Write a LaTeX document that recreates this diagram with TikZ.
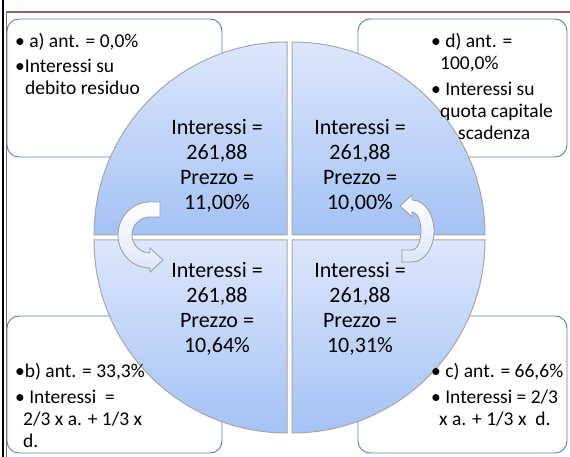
\documentclass[tikz,border=0pt]{standalone}
\usepackage{fontspec}
\setmainfont{Carlito}
\definecolor{boxblue}{RGB}{79,129,189}
\definecolor{quadtop}{RGB}{221,231,252}
\definecolor{quadbot}{RGB}{164,194,244}
\definecolor{rimbrown}{RGB}{150,100,90}
\tikzset{
      infobox/.style={draw=boxblue, fill=white, line width=0.9, rounded corners=12},
      quad/.style={top color=quadtop, bottom color=quadbot, draw=black!35, line width=1},
      turn/.style={top color=white, bottom color=quadtop, draw=black!40, line width=0.8},
      quadtext/.style={font=\fontsize{22}{25}\selectfont, align=center, inner sep=0},
      boxtext/.style={font=\fontsize{19.5}{22}\selectfont, align=left, anchor=north west, inner sep=0},
}

\begin{document}
\begin{tikzpicture}[x=1pt, y=1pt]
        \useasboundingbox (0,0) rectangle (570,457);

        % page rule
        \draw[line width=2.5] (3,0) -- (3,457) ;
        \draw[rimbrown, line width=1.3] (6.5,0) -- (6.5,445) -- (570,445) ;

        % text boxes
        \draw[infobox] (7,300) rectangle (222,438) ;
        \draw[infobox] (358,300) rectangle (567,438) ;
        \draw[infobox] (7,4) rectangle (222,141) ;
        \draw[infobox] (358,4) rectangle (567,141) ;

        % circle in four quarters
        \shade[quad] (287,222) -- ++(-193,0) arc[start angle=180, end angle=90, radius=193] -- cycle ;
        \shade[quad] (292,222) -- ++(0,193) arc[start angle=90, end angle=0, radius=193] -- cycle ;
        \shade[quad] (287,217) -- ++(0,-193) arc[start angle=270, end angle=180, radius=193] -- cycle ;
        \shade[quad] (292,217) -- ++(193,0) arc[start angle=0, end angle=-90, radius=193] -- cycle ;

        % turning arrows
        \shade[turn] (160,255) -- (150,255) arc[start angle=90, end angle=270, x radius=32, y radius=33]
              -- (150,185) -- (163,197) -- (150,209) -- (150,204)
              arc[start angle=270, end angle=90, x radius=18, y radius=18] -- (160,240) -- cycle ;
        \shade[turn] (402,195) -- (412,195) arc[start angle=-90, end angle=90, x radius=22, y radius=31]
              -- (412,262) -- (400,251) -- (412,240) -- (412,245)
              arc[start angle=90, end angle=-90, x radius=9, y radius=19] -- (402,207) -- cycle ;

        \node[quadtext] (qa) at (217,291) {Interessi =\\261,88\\Prezzo =\\11,00\%} ;
        \node[quadtext] (qd) at (360,291) {Interessi =\\261,88\\Prezzo =\\10,00\%} ;
        \node[quadtext] (qb) at (217,148) {Interessi =\\261,88\\Prezzo =\\10,64\%} ;
        \node[quadtext] (qc) at (360,148) {Interessi =\\261,88\\Prezzo =\\10,31\%} ;

        \node[boxtext] (ta) at (15,424) {• a) ant. = 0,0\%\\[3pt]•Interessi su\\\hspace*{10pt}debito residuo} ;
        \node[boxtext] (td) at (431,424) {• d) ant. =\\\hspace*{9pt}100,0\%\\[4pt]• Interessi su\\\hspace*{9pt}quota capitale\\\hspace*{27pt}scadenza} ;
        \node[boxtext] (tb) at (15,94) {•b) ant. = 33,3\%\\[4pt]• Interessi \ =\\\hspace*{8pt}2/3 x a. + 1/3 x\\\hspace*{8pt}d.} ;
        \node[boxtext] (tc) at (431,94) {• c) ant. = 66,6\%\\[4pt]• Interessi = 2/3\\\hspace*{8pt}x a. + 1/3 x \ d.} ;

\end{tikzpicture}
\end{document}
